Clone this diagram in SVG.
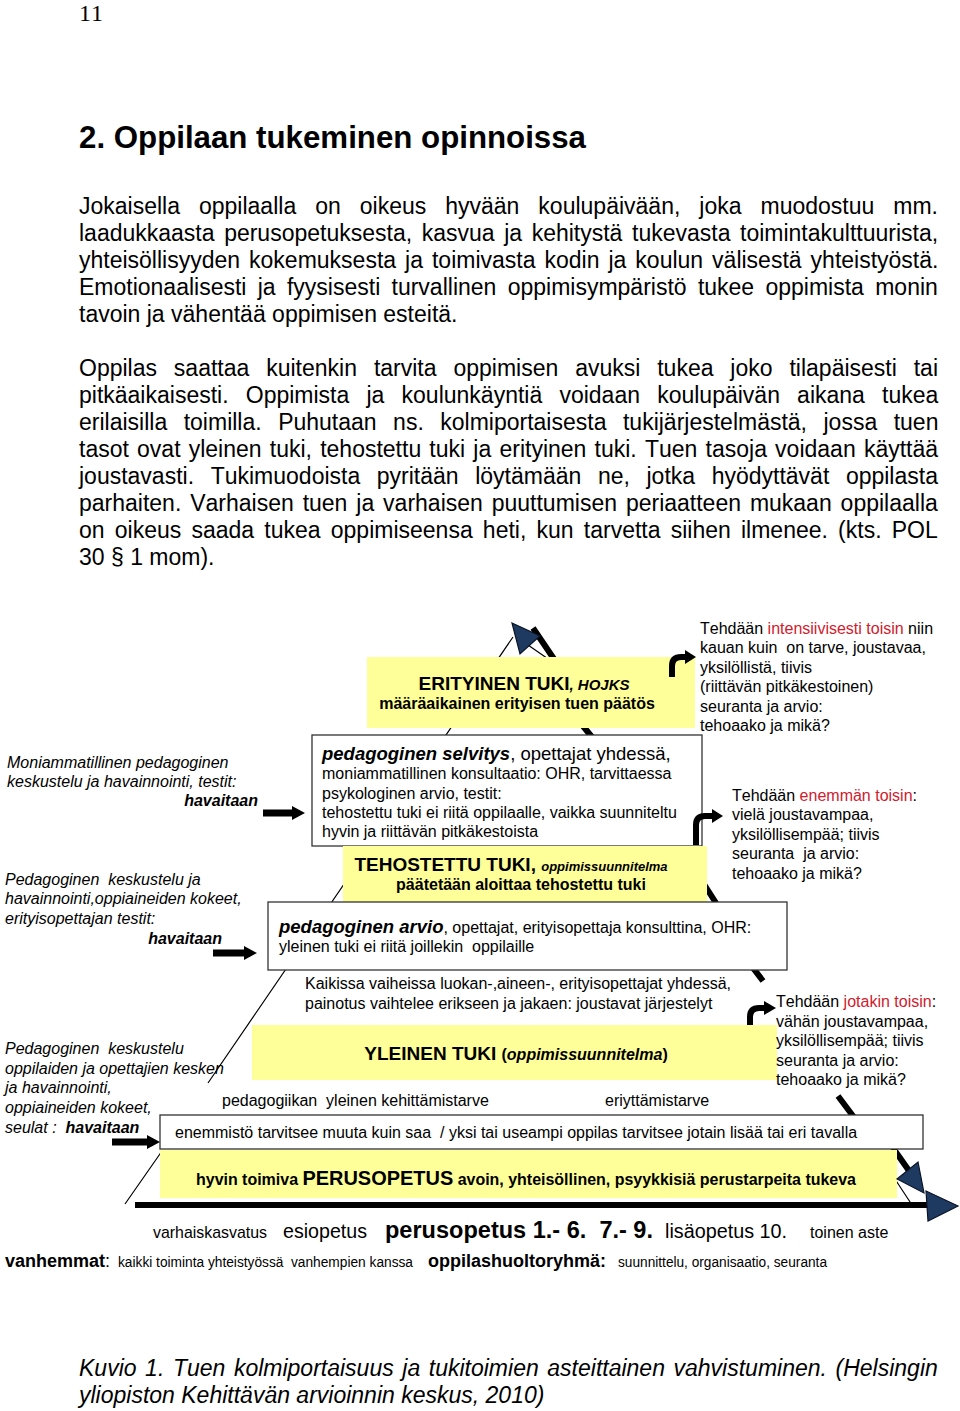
<svg xmlns="http://www.w3.org/2000/svg" width="960" height="1411" viewBox="0 0 960 1411">
<style>
text{font-family:"Liberation Sans",Arial,sans-serif;fill:#000;font-kerning:none;white-space:pre}
.serif{font-family:"Liberation Serif","Times New Roman",serif}
.p{font-size:23px}
.s16{font-size:16px}
.b{font-weight:bold}
.i{font-style:italic}
.red{fill:#d0202e}
.yel{fill:#ffff99;stroke:none}
.box{fill:#fff;stroke:#333;stroke-width:1.3}
.thick{stroke:#000;stroke-width:6;fill:none}
.thin{stroke:#000;stroke-width:1.2;fill:none}
.hook{stroke:#000;stroke-width:6;fill:none}
.nav{fill:#1f3a60;stroke:#0a1426;stroke-width:1.2}
</style>
<g id="page-text">
<text class="serif" x="79" y="21" font-size="24">11</text>
<text class="b" x="79" y="148" font-size="31" textLength="507" lengthAdjust="spacingAndGlyphs">2. Oppilaan tukeminen opinnoissa</text>
<text class="p" x="79" y="214" style="word-spacing:12.6px">Jokaisella oppilaalla on oikeus hyvään koulupäivään, joka muodostuu mm.</text>
<text class="p" x="79" y="241" style="word-spacing:3.2px">laadukkaasta perusopetuksesta, kasvua ja kehitystä tukevasta toimintakulttuurista,</text>
<text class="p" x="79" y="268" style="word-spacing:2.6px">yhteisöllisyyden kokemuksesta ja toimivasta kodin ja koulun välisestä yhteistyöstä.</text>
<text class="p" x="79" y="295" style="word-spacing:4.9px">Emotionaalisesti ja fyysisesti turvallinen oppimisympäristö tukee oppimista monin</text>
<text class="p" x="79" y="322">tavoin ja vähentää oppimisen esteitä.</text>
<text class="p" x="79" y="376" style="word-spacing:10.5px">Oppilas saattaa kuitenkin tarvita oppimisen avuksi tukea joko tilapäisesti tai</text>
<text class="p" x="79" y="403" style="word-spacing:10.8px">pitkäaikaisesti. Oppimista ja koulunkäyntiä voidaan koulupäivän aikana tukea</text>
<text class="p" x="79" y="430" style="word-spacing:10.1px">erilaisilla toimilla. Puhutaan ns. kolmiportaisesta tukijärjestelmästä, jossa tuen</text>
<text class="p" x="79" y="457" style="word-spacing:1.8px">tasot ovat yleinen tuki, tehostettu tuki ja erityinen tuki. Tuen tasoja voidaan käyttää</text>
<text class="p" x="79" y="484" style="word-spacing:10.2px">joustavasti. Tukimuodoista pyritään löytämään ne, jotka hyödyttävät oppilasta</text>
<text class="p" x="79" y="511" style="word-spacing:2.5px">parhaiten. Varhaisen tuen ja varhaisen puuttumisen periaatteen mukaan oppilaalla</text>
<text class="p" x="79" y="538" style="word-spacing:3.8px">on oikeus saada tukea oppimiseensa heti, kun tarvetta siihen ilmenee. (kts. POL</text>
<text class="p" x="79" y="565">30 § 1 mom).</text>
<text class="p i" x="79" y="1376" style="word-spacing:2.2px">Kuvio 1. Tuen kolmiportaisuus ja tukitoimien asteittainen vahvistuminen. (Helsingin</text>
<text class="p i" x="79" y="1403">yliopiston Kehittävän arvioinnin keskus, 2010)</text>
</g>
<g id="connectors">
<path class="thin" d="M513,637 L208,1083 M162,1151 L125,1204"/>
<path class="thin" d="M528,645 L554,663 M893,1176 L912,1205"/>
<path class="thick" d="M533,628 L556,662 M583,726 L604,752 M700,878 L716,903 M750,964 L763,981 M838,1096 L856,1120 M893,1148 L912,1175"/>
<path class="thick" d="M135,1205 L930,1205"/>
</g>
<g id="node-erityinen">
<rect class="yel" x="367" y="657" width="328" height="71"/>
<text class="b" x="524" y="690" text-anchor="middle" font-size="19">ERITYINEN TUKI<tspan font-size="15" class="i">, HOJKS</tspan></text>
<text class="b s16" x="517" y="709" text-anchor="middle">määräaikainen erityisen tuen päätös</text>
</g>
<g id="node-selvitys">
<rect class="box" x="312" y="735" width="390" height="111"/>
<text x="322" y="760" font-size="18.5"><tspan class="b i">pedagoginen selvitys</tspan>, opettajat yhdessä,</text>
<text class="s16" x="322" y="779">moniammatillinen konsultaatio: OHR, tarvittaessa</text>
<text class="s16" x="322" y="799">psykologinen arvio, testit:</text>
<text class="s16" x="322" y="818">tehostettu tuki ei riitä oppilaalle, vaikka suunniteltu</text>
<text class="s16" x="322" y="837">hyvin ja riittävän pitkäkestoista</text>
</g>
<g id="node-tehostettu">
<rect class="yel" x="343" y="846" width="364" height="56"/>
<text class="b" x="511" y="871" text-anchor="middle" font-size="19">TEHOSTETTU TUKI, <tspan font-size="13" class="i">oppimissuunnitelma</tspan></text>
<text class="b s16" x="521" y="890" text-anchor="middle">päätetään aloittaa tehostettu tuki</text>
</g>
<g id="node-arvio">
<rect class="box" x="268" y="902" width="519" height="68"/>
<text x="279" y="933" font-size="16"><tspan class="b i" font-size="18.5">pedagoginen arvio</tspan>, opettajat, erityisopettaja konsulttina, OHR:</text>
<text class="s16" x="279" y="952">yleinen tuki ei riitä joillekin  oppilaille</text>
</g>
<g id="node-kaikissa">
<text class="s16" x="305" y="989">Kaikissa vaiheissa luokan-,aineen-, erityisopettajat yhdessä,</text>
<text class="s16" x="305" y="1009">painotus vaihtelee erikseen ja jakaen: joustavat järjestelyt</text>
</g>
<g id="node-yleinen">
<rect class="yel" x="252" y="1025" width="525" height="55"/>
<text class="b" x="516" y="1060" text-anchor="middle" font-size="19">YLEINEN TUKI <tspan font-size="16">(<tspan class="i">oppimissuunnitelma</tspan>)</tspan></text>
</g>
<g id="node-tarpeet">
<text class="s16" x="222" y="1106">pedagogiikan  yleinen kehittämistarve</text>
<text class="s16" x="605" y="1106">eriyttämistarve</text>
</g>
<g id="node-enemmisto">
<rect class="box" x="160" y="1115" width="763" height="34"/>
<text class="s16" x="175" y="1138">enemmistö tarvitsee muuta kuin saa  / yksi tai useampi oppilas tarvitsee jotain lisää tai eri tavalla</text>
</g>
<g id="node-perusopetus">
<rect class="yel" x="160" y="1150" width="737" height="48"/>
<text class="b" x="196" y="1185" font-size="16" textLength="660" lengthAdjust="spacingAndGlyphs">hyvin toimiva <tspan font-size="20">PERUSOPETUS</tspan> avoin, yhteisöllinen, psyykkisiä perustarpeita tukeva</text>
</g>
<g id="node-right1">
<text class="s16" x="700" y="634">Tehdään <tspan class="red">intensiivisesti toisin</tspan> niin</text>
<text class="s16" x="700" y="653">kauan kuin  on tarve, joustavaa,</text>
<text class="s16" x="700" y="673">yksilöllistä, tiivis</text>
<text class="s16" x="700" y="692">(riittävän pitkäkestoinen)</text>
<text class="s16" x="700" y="712">seuranta ja arvio:</text>
<text class="s16" x="700" y="731">tehoaako ja mikä?</text>
</g>
<g id="node-right2">
<text class="s16" x="732" y="801">Tehdään <tspan class="red">enemmän toisin</tspan>:</text>
<text class="s16" x="732" y="820">vielä joustavampaa,</text>
<text class="s16" x="732" y="840">yksilöllisempää; tiivis</text>
<text class="s16" x="732" y="859">seuranta  ja arvio:</text>
<text class="s16" x="732" y="879">tehoaako ja mikä?</text>
</g>
<g id="node-right3">
<text class="s16" x="776" y="1007">Tehdään <tspan class="red">jotakin toisin</tspan>:</text>
<text class="s16" x="776" y="1027">vähän joustavampaa,</text>
<text class="s16" x="776" y="1046">yksilöllisempää; tiivis</text>
<text class="s16" x="776" y="1066">seuranta ja arvio:</text>
<text class="s16" x="776" y="1085">tehoaako ja mikä?</text>
</g>
<g id="node-left1">
<text class="s16 i" x="7" y="768">Moniammatillinen pedagoginen</text>
<text class="s16 i" x="7" y="787">keskustelu ja havainnointi, testit:</text>
<text class="s16 i b" x="258" y="806" text-anchor="end">havaitaan</text>
</g>
<g id="node-left2">
<text class="s16 i" x="5" y="885">Pedagoginen  keskustelu ja</text>
<text class="s16 i" x="5" y="904">havainnointi,oppiaineiden kokeet,</text>
<text class="s16 i" x="5" y="924">erityisopettajan testit:</text>
<text class="s16 i b" x="222" y="944" text-anchor="end">havaitaan</text>
</g>
<g id="node-left3">
<text class="s16 i" x="5" y="1054">Pedagoginen  keskustelu</text>
<text class="s16 i" x="5" y="1074">oppilaiden ja opettajien kesken</text>
<text class="s16 i" x="5" y="1093">ja havainnointi,</text>
<text class="s16 i" x="5" y="1113">oppiaineiden kokeet,</text>
<text class="s16 i" x="5" y="1133">seulat :  <tspan class="b">havaitaan</tspan></text>
</g>
<g id="node-timeline">
<text x="153" y="1238" font-size="17" textLength="114" lengthAdjust="spacingAndGlyphs">varhaiskasvatus</text>
<text x="283" y="1238" font-size="21" textLength="84" lengthAdjust="spacingAndGlyphs">esiopetus</text>
<text class="b" x="385" y="1238" font-size="23" textLength="268" lengthAdjust="spacingAndGlyphs">perusopetus 1.- 6.  7.- 9.</text>
<text x="665" y="1238" font-size="20" textLength="122" lengthAdjust="spacingAndGlyphs">lisäopetus 10.</text>
<text class="s16" x="810" y="1238">toinen aste</text>
<text x="5" y="1267" font-size="18"><tspan class="b">vanhemmat</tspan>:</text>
<text x="118" y="1267" font-size="14" textLength="295" lengthAdjust="spacingAndGlyphs">kaikki toiminta yhteistyössä  vanhempien kanssa</text>
<text class="b" x="428" y="1267" font-size="18">oppilashuoltoryhmä:</text>
<text x="618" y="1267" font-size="14" textLength="209" lengthAdjust="spacingAndGlyphs">suunnittelu, organisaatio, seuranta</text>
</g>
<g id="arrows">
<polygon fill="#000" points="263,809.5 292,809.5 292,806 305,813 292,820 292,816.5 263,816.5"/>
<polygon fill="#000" points="213,949.5 244,949.5 244,946 257,953 244,960 244,956.5 213,956.5"/>
<polygon fill="#000" points="112,1138.5 147,1138.5 147,1135 160,1142 147,1149 147,1145.5 112,1145.5"/>
<path class="hook" d="M672,677 L672,666 Q672,657 681,657 L686,657"/>
<polygon fill="#000" points="685,650 696,657 685,664"/>
<path class="hook" d="M696,845 L696,825 Q696,816 705,816 L713,816"/>
<polygon fill="#000" points="712,809 723,816 712,823"/>
<path class="hook" d="M750,1025 L750,1017 Q750,1008 759,1008 L765,1008"/>
<polygon fill="#000" points="764,1001 776,1008 764,1015"/>
<polygon class="nav" points="512,623 540,636 520,654"/>
<polygon class="nav" points="897,1179 918,1162 924,1193"/>
<polygon class="nav" points="926,1191 958,1206 928,1221"/>
</g>
</svg>
